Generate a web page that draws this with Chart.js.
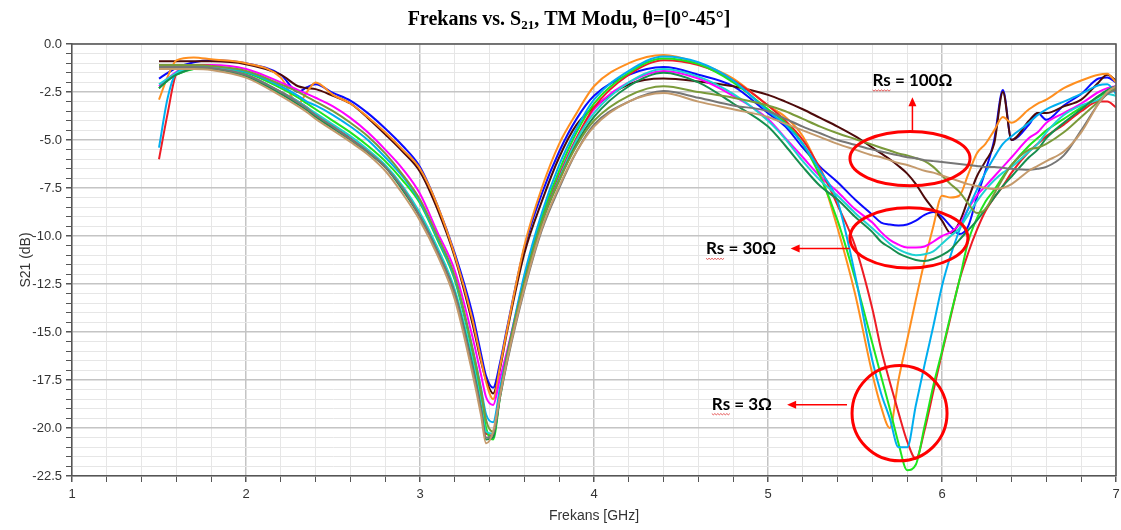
<!DOCTYPE html>
<html>
<head>
<meta charset="utf-8">
<script src="https://cdn.jsdelivr.net/npm/chart.js@4.4.1/dist/chart.umd.min.js"></script>
<style>
  html, body { margin: 0; padding: 0; background: #fff; }
</style>
</head>
<body>
<canvas id="s21Chart" width="1121" height="530"></canvas>
<script>
// Frequency points (GHz), shared by every curve
const freq = [
  1.5, 1.55, 1.6, 1.7, 1.8,
  2.0, 2.2, 2.3, 2.35, 2.4,
  2.5, 2.6, 2.7, 2.8, 2.9,
  3.0, 3.1, 3.2, 3.3, 3.35,
  3.38, 3.42, 3.46, 3.5, 3.6,
  3.7, 3.8, 3.9, 4.0, 4.2,
  4.4, 4.6, 4.8, 5.0, 5.1,
  5.2, 5.3, 5.4, 5.5, 5.6,
  5.65, 5.7, 5.75, 5.8, 5.85,
  5.9, 5.95, 6.0, 6.05, 6.1,
  6.15, 6.2, 6.25, 6.3, 6.35,
  6.4, 6.5, 6.55, 6.6, 6.7,
  6.8, 6.9, 6.95, 7.0
];

// Rs = 3 ohm
const orangeS21 = [
  -2.9, -1.7, -0.85, -0.7, -0.8,
  -1.0, -1.75, -3.1, -2.5, -2.0,
  -2.65, -3.1, -3.8, -4.6, -5.5,
  -6.5, -8.4, -11.0, -14.3, -16.4,
  -17.6, -18.5, -16.8, -14.9, -10.5,
  -7.5, -5.2, -3.6, -2.2, -1.0,
  -0.57, -1.0, -1.8, -3.2, -3.8,
  -4.8, -6.7, -9.6, -13.0, -17.2,
  -18.9, -20.0, -17.5, -15.4, -13.3,
  -11.3, -9.5, -7.9, -8.0, -7.9,
  -6.8, -5.7, -5.2, -4.5, -3.8,
  -4.1, -3.4, -3.1, -2.9, -2.3,
  -1.9, -1.6, -1.55, -2.0
];
const redS21 = [
  -6.0, -3.6, -1.55, -1.1, -1.15,
  -1.6, -2.5, -3.0, -3.3, -3.7,
  -4.3, -4.9, -5.6, -6.4, -7.5,
  -9.0, -10.8, -13.0, -16.6, -18.9,
  -20.3, -20.4, -18.2, -16.2, -12.4,
  -9.2, -6.9, -4.9, -3.3, -1.6,
  -0.85, -1.1, -1.9, -3.2, -4.0,
  -5.0, -6.5, -8.4, -10.5, -13.8,
  -15.9, -17.6, -19.2, -20.7, -21.6,
  -20.1, -18.1, -16.1, -14.2, -12.3,
  -10.9, -9.7, -8.7, -8.0, -7.4,
  -6.7, -5.6, -5.2, -4.8, -4.2,
  -3.5, -3.0, -3.0, -3.3
];
const skyS21 = [
  -5.4, -2.8, -1.5, -1.2, -1.2,
  -1.45, -2.2, -2.7, -3.0, -3.2,
  -3.7, -4.3, -5.0, -5.9, -6.9,
  -8.2, -10.1, -12.2, -15.8, -17.9,
  -19.3, -19.7, -17.9, -16.2, -12.0,
  -8.8, -6.3, -4.4, -2.9, -1.4,
  -0.65, -0.95, -1.9, -3.5, -4.2,
  -5.2, -6.6, -8.2, -12.0, -16.5,
  -18.2, -19.5, -21.0, -21.0, -18.8,
  -16.7, -14.7, -12.6, -11.0, -9.7,
  -8.6, -7.6, -6.7, -5.9, -5.2,
  -4.8, -4.1, -3.7, -3.4, -3.0,
  -2.6, -2.15, -2.1, -2.6
];
const limeS21 = [
  -2.3, -1.9, -1.6, -1.3, -1.25,
  -1.5, -2.3, -2.8, -3.1, -3.4,
  -4.0, -4.6, -5.3, -6.1, -7.1,
  -8.3, -10.2, -12.3, -16.0, -18.3,
  -20.0, -20.6, -18.4, -16.5, -12.3,
  -9.0, -6.6, -4.6, -3.1, -1.5,
  -0.75, -1.05, -2.0, -3.4, -4.1,
  -5.2, -6.9, -9.2, -12.2, -15.6,
  -17.3, -19.0, -20.8, -22.2, -21.9,
  -19.9, -17.8, -16.0, -14.1, -12.3,
  -10.3, -9.1, -8.2, -7.6, -6.9,
  -6.3, -5.3, -4.9, -4.5, -3.9,
  -3.3, -2.75, -2.5, -2.4
];

// Rs = 30 ohm
const blueS21 = [
  -1.8, -1.5, -1.25, -0.95, -0.85,
  -1.0, -1.6, -2.5, -2.25, -2.1,
  -2.55, -2.95, -3.6, -4.4, -5.3,
  -6.4, -8.4, -10.9, -14.0, -16.1,
  -17.3, -17.9, -16.6, -14.8, -10.6,
  -7.8, -5.6, -3.9, -2.7, -1.6,
  -1.2, -1.6, -2.2, -3.6, -4.3,
  -5.4, -6.4, -7.2, -8.1, -8.9,
  -9.3, -9.4, -9.45, -9.4, -9.2,
  -8.9, -8.75, -9.0, -9.5, -9.9,
  -9.5, -8.0, -6.6, -5.0, -2.4,
  -5.0, -4.2, -3.6, -3.95, -3.2,
  -2.6, -1.8, -1.75, -2.0
];
const magentaS21 = [
  -2.2, -1.8, -1.45, -1.15, -1.1,
  -1.3, -2.0, -2.4, -2.6, -2.8,
  -3.25, -3.85, -4.6, -5.5, -6.5,
  -7.8, -9.8, -11.8, -15.2, -17.2,
  -18.4, -18.8, -17.4, -16.0, -12.2,
  -9.0, -6.8, -4.9, -3.4, -2.0,
  -1.4, -1.8, -2.7, -3.9, -4.9,
  -5.9, -6.9, -7.7, -8.6, -9.3,
  -9.8, -10.2, -10.45, -10.6, -10.6,
  -10.55, -10.3, -10.0, -9.8, -9.4,
  -8.6, -7.9, -7.4, -6.9, -6.4,
  -5.9, -4.9, -4.6, -4.1, -3.6,
  -3.1, -2.5, -2.3, -2.2
];
const turquoiseS21 = [
  -2.1, -1.8, -1.5, -1.25, -1.25,
  -1.6, -2.5, -3.0, -3.3, -3.6,
  -4.2, -4.8, -5.5, -6.3, -7.4,
  -8.8, -10.6, -12.8, -16.4, -18.7,
  -20.2, -20.3, -18.3, -16.3, -12.4,
  -9.3, -7.0, -5.0, -3.6, -2.0,
  -1.3, -1.7, -2.6, -4.0, -4.95,
  -6.1, -7.1, -7.9, -8.8, -9.6,
  -10.0, -10.4, -10.7, -10.9, -11.0,
  -10.95, -10.8, -10.4, -10.0, -9.6,
  -8.9, -8.2, -7.6, -7.1, -6.7,
  -6.4, -5.6, -5.2, -4.6, -3.7,
  -3.2, -2.9, -2.6, -2.7
];
const seaGreenS21 = [
  -2.3, -1.9, -1.6, -1.3, -1.3,
  -1.7, -2.6, -3.15, -3.45, -3.8,
  -4.4, -5.0, -5.65, -6.4, -7.6,
  -9.0, -10.8, -13.0, -16.7, -19.0,
  -20.6, -20.5, -18.3, -16.3, -12.4,
  -9.3, -7.1, -5.2, -3.8, -2.2,
  -1.5, -2.0, -3.1, -4.3, -5.3,
  -6.4, -7.4, -8.1, -9.0, -9.8,
  -10.3, -10.6, -10.9, -11.1, -11.25,
  -11.3, -11.2, -11.0, -10.7, -10.2,
  -9.7, -9.2, -8.6, -8.0, -7.4,
  -6.9, -5.9, -5.5, -4.9, -4.1,
  -3.4, -2.7, -2.4, -2.2
];

// Rs = 100 ohm
const maroonS21 = [
  -0.9, -0.9, -0.9, -0.9, -0.9,
  -1.05, -1.6, -2.2, -2.3, -2.35,
  -2.7, -3.1, -3.85, -4.7, -5.6,
  -6.65, -8.6, -11.1, -14.5, -16.5,
  -17.5, -18.2, -16.9, -15.0, -10.9,
  -8.2, -5.9, -4.2, -3.3, -2.1,
  -1.8, -1.95, -2.2, -2.65, -3.0,
  -3.4, -3.85, -4.3, -4.8, -5.4,
  -5.7, -6.0, -6.35, -6.75, -7.3,
  -8.0, -8.6, -9.2, -9.85, -9.3,
  -8.1, -6.9, -6.1, -5.2, -2.5,
  -5.0, -4.0, -3.6, -3.6, -3.25,
  -2.9, -2.0, -1.6, -1.9
];
const oliveS21 = [
  -1.1, -1.1, -1.1, -1.1, -1.15,
  -1.4, -2.1, -2.5, -2.75, -3.0,
  -3.5, -4.1, -4.8, -5.7, -6.8,
  -8.1, -10.0, -12.1, -15.8, -18.0,
  -19.6, -20.2, -18.3, -16.3, -12.4,
  -9.3, -7.1, -5.3, -4.0, -2.7,
  -2.2, -2.5, -2.8, -3.2, -3.5,
  -3.9, -4.3, -4.65, -4.95, -5.25,
  -5.4, -5.55, -5.7, -5.8, -5.95,
  -6.1, -6.4, -6.85, -7.3, -7.7,
  -8.3, -8.8, -8.6, -7.8, -7.0,
  -6.3, -5.5, -5.4, -5.2, -4.6,
  -3.8, -3.0, -2.6, -2.3
];
const grayS21 = [
  -1.2, -1.2, -1.2, -1.2, -1.25,
  -1.6, -2.5, -3.05, -3.35, -3.7,
  -4.3, -4.95, -5.6, -6.4, -7.5,
  -9.0, -10.8, -13.0, -16.8, -19.0,
  -20.5, -20.3, -18.4, -16.6, -12.8,
  -9.7, -7.5, -5.6, -4.2, -3.0,
  -2.45, -2.8, -3.2, -3.5, -3.9,
  -4.3, -4.65, -5.0, -5.25, -5.5,
  -5.6, -5.7, -5.8, -5.9, -5.95,
  -6.05, -6.1, -6.15, -6.2, -6.25,
  -6.3, -6.35, -6.4, -6.4, -6.45,
  -6.5, -6.55, -6.5, -6.4, -5.8,
  -4.5, -3.1, -2.6, -2.4
];
const tanS21 = [
  -1.3, -1.3, -1.3, -1.3, -1.35,
  -1.75, -2.7, -3.25, -3.55, -3.9,
  -4.5, -5.1, -5.75, -6.6, -7.8,
  -9.2, -11.0, -13.3, -17.1, -19.3,
  -20.8, -20.2, -18.3, -16.5, -12.7,
  -9.6, -7.4, -5.6, -4.3, -3.0,
  -2.55, -3.0, -3.4, -3.8, -4.15,
  -4.5, -4.85, -5.2, -5.5, -5.8,
  -5.9, -6.05, -6.2, -6.3, -6.45,
  -6.6, -6.7, -6.85, -7.0, -7.15,
  -7.3, -7.4, -7.5, -7.55, -7.5,
  -7.3, -6.6, -6.35, -6.1, -5.6,
  -4.6, -3.1, -2.5, -2.2
];

const curves = [
  { name: 'tan',       values: tanS21,       color: '#C49A6C' },
  { name: 'gray',      values: grayS21,      color: '#767676' },
  { name: 'olive',     values: oliveS21,     color: '#7A9A3A' },
  { name: 'seagreen',  values: seaGreenS21,  color: '#168E4E' },
  { name: 'turquoise', values: turquoiseS21, color: '#1ED2D2' },
  { name: 'sky',       values: skyS21,       color: '#00AEEF' },
  { name: 'lime',      values: limeS21,      color: '#1EE61E' },
  { name: 'red',       values: redS21,       color: '#EE1C25' },
  { name: 'magenta',   values: magentaS21,   color: '#FF00FF' },
  { name: 'orange',    values: orangeS21,    color: '#FF8F1F' },
  { name: 'maroon',    values: maroonS21,    color: '#4E0A0A' },
  { name: 'blue',      values: blueS21,      color: '#0A0AFF' }
];

// Annotations, in data units (GHz, dB)
const rings = [
  { f: 5.816, db: -5.97,  rf: 0.345, rdb: 1.41 },
  { f: 5.81,  db: -10.1,  rf: 0.339, rdb: 1.57 },
  { f: 5.756, db: -19.23, rf: 0.273, rdb: 2.48 }
];
const arrows = [
  { f1: 5.83, db1: -4.54,  f2: 5.83, db2: -2.77 },
  { f1: 5.47, db1: -10.65, f2: 5.13, db2: -10.65 },
  { f1: 5.454, db1: -18.79, f2: 5.11, db2: -18.79 }
];
const notes = [
  { text: 'Rs = 100Ω', f: 5.83,  db: -1.88 },
  { text: 'Rs = 30Ω',  f: 4.845, db: -10.65 },
  { text: 'Rs = 3Ω',   f: 4.85,  db: -18.74 }
];

function isWhole(v) { return Math.abs(v - Math.round(v)) < 1e-6; }
function isMajorDb(v) { return Math.abs(v / 2.5 - Math.round(v / 2.5)) < 1e-6; }

const overlay = {
  id: 'overlay',
  afterDatasetsDraw(chart) {
    const { ctx, chartArea: a, scales: { x, y } } = chart;
    ctx.save();
    // frame on top and right
    ctx.strokeStyle = '#555';
    ctx.lineWidth = 1.5;
    ctx.beginPath();
    ctx.moveTo(a.left, a.top); ctx.lineTo(a.right, a.top); ctx.lineTo(a.right, a.bottom);
    ctx.stroke();

    ctx.strokeStyle = '#FF0000';
    ctx.lineWidth = 3;
    rings.forEach(r => {
      const cx = x.getPixelForValue(r.f), cy = y.getPixelForValue(r.db);
      const rx = x.getPixelForValue(r.f + r.rf) - cx;
      const ry = y.getPixelForValue(r.db - r.rdb) - cy;
      ctx.beginPath();
      ctx.ellipse(cx, cy, rx, ry, 0, 0, Math.PI * 2);
      ctx.stroke();
    });

    ctx.fillStyle = '#FF0000';
    ctx.lineWidth = 1.5;
    arrows.forEach(ar => {
      const x1 = x.getPixelForValue(ar.f1), y1 = y.getPixelForValue(ar.db1);
      const x2 = x.getPixelForValue(ar.f2), y2 = y.getPixelForValue(ar.db2);
      const ang = Math.atan2(y2 - y1, x2 - x1);
      ctx.beginPath();
      ctx.moveTo(x1, y1);
      ctx.lineTo(x2 - 6 * Math.cos(ang), y2 - 6 * Math.sin(ang));
      ctx.stroke();
      ctx.beginPath();
      ctx.moveTo(x2, y2);
      ctx.lineTo(x2 - 9 * Math.cos(ang) + 4 * Math.sin(ang), y2 - 9 * Math.sin(ang) - 4 * Math.cos(ang));
      ctx.lineTo(x2 - 9 * Math.cos(ang) - 4 * Math.sin(ang), y2 - 9 * Math.sin(ang) + 4 * Math.cos(ang));
      ctx.closePath();
      ctx.fill();
    });

    ctx.font = 'bold 17px Lato';
    ctx.textBaseline = 'alphabetic';
    ctx.textAlign = 'left';
    notes.forEach(n => {
      const w = ctx.measureText(n.text).width;
      const left = x.getPixelForValue(n.f) - w / 2;
      const base = y.getPixelForValue(n.db) + 6;
      ctx.fillStyle = '#000';
      ctx.fillText(n.text, left, base);
      // spell-check squiggle under "Rs"
      const rw = ctx.measureText('Rs').width;
      ctx.strokeStyle = '#E03030';
      ctx.lineWidth = 0.8;
      ctx.beginPath();
      for (let i = 0; i <= rw; i += 1.5) {
        const yy = base + 4 + ((Math.round(i / 1.5) % 2) ? 1 : -0.2);
        if (i === 0) ctx.moveTo(left + i, yy); else ctx.lineTo(left + i, yy);
      }
      ctx.stroke();
    });

    // title with subscript
    const p1 = 'Frekans vs. S', sub = '21', p3 = ', TM Modu, θ=[0°-45°]';
    const big = 'bold 20px "Liberation Serif"', small = 'bold 13px "Liberation Serif"';
    ctx.font = big; const w1 = ctx.measureText(p1).width, w3 = ctx.measureText(p3).width;
    ctx.font = small; const w2 = ctx.measureText(sub).width;
    let tx = 569 - (w1 + w2 + w3) / 2;
    const ty = 25;
    ctx.fillStyle = '#000';
    ctx.font = big; ctx.fillText(p1, tx, ty); tx += w1;
    ctx.font = small; ctx.fillText(sub, tx, ty + 4); tx += w2;
    ctx.font = big; ctx.fillText(p3, tx, ty);
    ctx.restore();
  }
};

Chart.defaults.font.family = '"Liberation Sans", Arial, sans-serif';

new Chart(document.getElementById('s21Chart'), {
  type: 'line',
  data: {
    datasets: curves.map(c => ({
      label: c.name,
      data: freq.map((f, i) => ({ x: f, y: c.values[i] })),
      borderColor: c.color,
      borderWidth: 2,
      pointRadius: 0,
      fill: false,
      cubicInterpolationMode: 'monotone'
    }))
  },
  options: {
    responsive: false,
    animation: false,
    layout: { padding: { top: 44, right: 5, left: 0, bottom: 0 } },
    plugins: { legend: { display: false }, tooltip: { enabled: false } },
    scales: {
      x: {
        type: 'linear',
        min: 1,
        max: 7,
        afterFit: s => { s.height = 54; s.paddingRight = 0; s.paddingLeft = 0; },
        ticks: {
          stepSize: 0.2,
          autoSkip: false,
          maxRotation: 0,
          padding: 5,
          color: '#333',
          font: { size: 13 },
          callback: v => isWhole(v) ? String(Math.round(v)) : ''
        },
        grid: {
          color: c => isWhole(c.tick.value) ? '#C4C4C4' : '#E6E6E6',
          lineWidth: c => isWhole(c.tick.value) ? 1.5 : 1,
          tickColor: '#555',
          tickLength: 6
        },
        border: { color: '#555', width: 1.5 },
        title: { display: true, text: 'Frekans [GHz]', color: '#333', font: { size: 14 }, padding: { top: 0, bottom: 5 } }
      },
      y: {
        min: -22.5,
        max: 0,
        afterFit: s => { s.width = 72; s.paddingTop = 0; s.paddingBottom = 0; },
        ticks: {
          stepSize: 0.5,
          autoSkip: false,
          padding: 4,
          color: '#333',
          font: { size: 13 },
          callback: v => isMajorDb(v) ? v.toFixed(1) : ''
        },
        grid: {
          color: c => isMajorDb(c.tick.value) ? '#C4C4C4' : '#E6E6E6',
          lineWidth: c => isMajorDb(c.tick.value) ? 1.5 : 1,
          tickColor: '#555',
          tickLength: 6
        },
        border: { color: '#555', width: 1.5 },
        title: { display: true, text: 'S21 (dB)', color: '#333', font: { size: 14 }, padding: { top: 18, bottom: 0 } }
      }
    }
  },
  plugins: [overlay]
});
</script>
</body>
</html>
